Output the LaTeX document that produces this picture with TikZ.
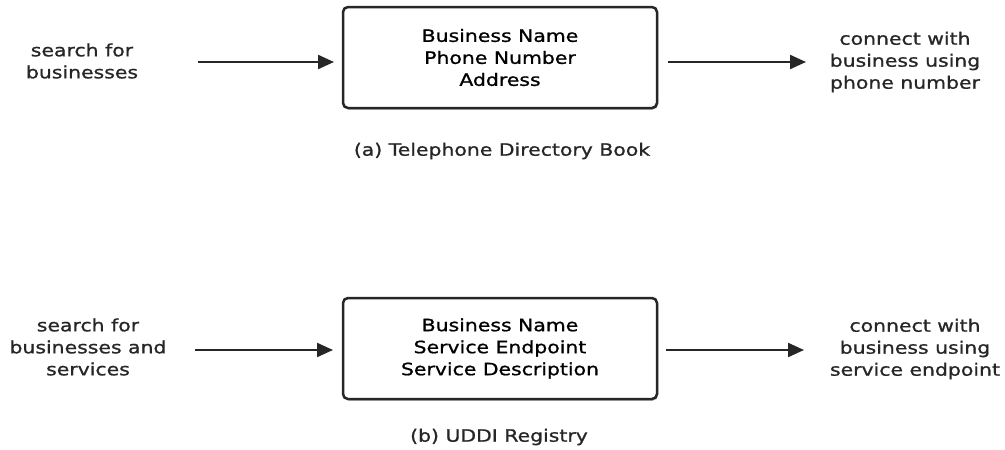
\documentclass[tikz,border=0pt]{standalone}
\usepackage{fontspec}
\setmainfont{DejaVu Sans}[FakeStretch=1.2,FakeBold=1]
\usetikzlibrary{arrows.meta,shadows}
\tikzset{
  infobox/.style={draw=black!85, line width=2.5pt, rounded corners=5pt, fill=white,
    minimum width=314pt, minimum height=101pt, align=center, inner sep=0pt,
    drop shadow={shadow xshift=1pt, shadow yshift=-1.5pt, opacity=0.3, fill=black}},
  lbl/.style={align=center, inner sep=0pt, text=black!85},
  caption/.style={inner sep=0pt, text=black!85},
  flow/.style={line width=2.2pt, draw=black!85, -{Triangle[length=16pt,width=14pt]}}
}
\begin{document}
\begin{tikzpicture}[x=1pt,y=1pt, font=\fontsize{17}{22}\selectfont]
\useasboundingbox (0,0) rectangle (1005,-450);
% (a)
\node[infobox] (boxa) at (500,-57.5) {Business Name\\Phone Number\\Address};
\node[lbl] (ina) at (82,-61) {search for\\businesses};
\node[lbl] (outa) at (905,-62) {connect with\\business using\\phone number};
\coordinate (ina-e) at (198,-62);
\coordinate (ina-t) at (334,-62);
\coordinate (outa-s) at (668,-62);
\coordinate (outa-e) at (806,-62);
\draw[flow] (ina-e) -- (ina-t);
\draw[flow] (outa-s) -- (outa-e);
\node[caption] (capa) at (502,-151) {(a) Telephone Directory Book};
% (b)
\node[infobox] (boxb) at (500,-348.5) {Business Name\\Service Endpoint\\Service Description};
\node[lbl] (inb) at (88,-347) {search for\\businesses and\\services};
\node[lbl] (outb) at (915,-349) {connect with\\business using\\service endpoint};
\coordinate (inb-e) at (195,-350);
\coordinate (inb-t) at (333,-350);
\coordinate (outb-s) at (666,-350);
\coordinate (outb-e) at (804,-350);
\draw[flow] (inb-e) -- (inb-t);
\draw[flow] (outb-s) -- (outb-e);
\node[caption] (capb) at (499,-437) {(b) UDDI Registry};
\end{tikzpicture}
\end{document}
